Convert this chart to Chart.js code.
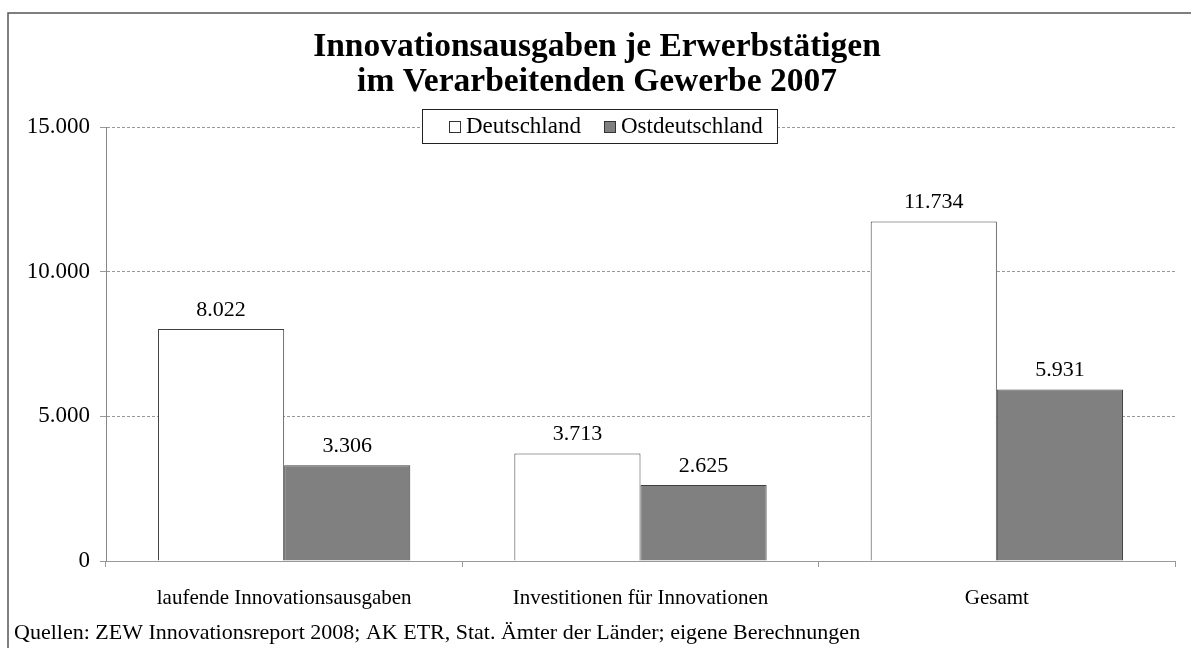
<!DOCTYPE html>
<html>
<head>
<meta charset="utf-8">
<script src="https://cdn.jsdelivr.net/npm/chart.js@4.4.1/dist/chart.umd.min.js"></script>
<style>
  html, body { margin: 0; padding: 0; background: #fff; }
  #wrap { width: 1191px; height: 648px; position: relative; }
</style>
</head>
<body>
<div id="wrap"><canvas id="myChart" width="1191" height="648"></canvas></div>
<script>
const categories = ["laufende Innovationsausgaben", "Investitionen für Innovationen", "Gesamt"];
const deutschland = [8022, 3713, 11734];
const ostdeutschland = [3306, 2625, 5931];
const yTicks = [0, 5000, 10000, 15000];
const titleLines = ["Innovationsausgaben je Erwerbstätigen", "im Verarbeitenden Gewerbe 2007"];
const sourceNote = "Quellen: ZEW Innovationsreport 2008; AK ETR, Stat. Ämter der Länder; eigene Berechnungen";

const serif = "'Liberation Serif', 'Times New Roman', serif";
const fmt = (v) => v.toLocaleString("de-DE");

// title, legend box, value labels, frame and footer
const decorations = {
  id: "decorations",
  afterDraw(chart) {
    const ctx = chart.ctx;
    ctx.save();

    // frame (left + top)
    ctx.strokeStyle = "#555";
    ctx.lineWidth = 1.5;
    ctx.beginPath();
    ctx.moveTo(8, 648);
    ctx.lineTo(8, 13);
    ctx.lineTo(1191, 13);
    ctx.stroke();

    // title
    ctx.fillStyle = "#000";
    ctx.textAlign = "center";
    ctx.textBaseline = "alphabetic";
    ctx.font = "bold 33.5px " + serif;
    ctx.fillText(titleLines[0], 597, 56);
    ctx.fillText(titleLines[1], 597, 91);

    // legend
    ctx.fillStyle = "#fff";
    ctx.fillRect(422, 109, 355, 34);
    ctx.strokeStyle = "#222";
    ctx.lineWidth = 1;
    ctx.strokeRect(422.5, 109.5, 355, 34);
    ctx.font = "23px " + serif;
    ctx.textAlign = "left";
    ctx.textBaseline = "middle";
    const items = [
      { x: 449, fill: "#fff", label: "Deutschland" },
      { x: 604, fill: "#808080", label: "Ostdeutschland" }
    ];
    items.forEach((it) => {
      ctx.fillStyle = it.fill;
      ctx.fillRect(it.x, 121, 12, 12);
      ctx.strokeStyle = "#333";
      ctx.strokeRect(it.x + 0.5, 121.5, 11, 11);
      ctx.fillStyle = "#000";
      ctx.fillText(it.label, it.x + 17, 127);
    });

    // value labels
    ctx.font = "22px " + serif;
    ctx.textAlign = "center";
    ctx.textBaseline = "bottom";
    chart.data.datasets.forEach((ds, i) => {
      chart.getDatasetMeta(i).data.forEach((bar, j) => {
        ctx.fillText(fmt(ds.data[j]), bar.x, bar.y - 8);
      });
    });

    // footer
    ctx.textAlign = "left";
    ctx.textBaseline = "middle";
    ctx.font = "22px " + serif;
    ctx.fillText(sourceNote, 14, 633);

    ctx.restore();
  }
};

new Chart(document.getElementById("myChart"), {
  type: "bar",
  data: {
    labels: categories,
    datasets: [
      {
        label: "Deutschland",
        data: deutschland,
        backgroundColor: "#ffffff",
        borderColor: "#404040",
        borderWidth: 1
      },
      {
        label: "Ostdeutschland",
        data: ostdeutschland,
        backgroundColor: "#808080",
        borderColor: "#404040",
        borderWidth: 1
      }
    ]
  },
  options: {
    responsive: false,
    animation: false,
    devicePixelRatio: 1,
    layout: { padding: { left: 10, right: 16, top: 127, bottom: 37 } },
    datasets: { bar: { barPercentage: 1, categoryPercentage: 0.708 } },
    plugins: {
      legend: { display: false },
      title: { display: false },
      tooltip: { enabled: false }
    },
    scales: {
      x: {
        afterFit: (scale) => { scale.height = 50; },
        grid: {
          drawOnChartArea: false,
          drawTicks: true,
          tickLength: 6,
          color: "#999",
          offset: true
        },
        border: { color: "#999", width: 1 },
        ticks: {
          color: "#000",
          font: { family: serif, size: 21 },
          padding: 19,
          maxRotation: 0
        }
      },
      y: {
        min: 0,
        max: 15000,
        afterFit: (scale) => { scale.width = 96; },
        afterBuildTicks: (scale) => {
          scale.ticks = yTicks.map((v) => ({ value: v }));
        },
        grid: {
          color: "#999",
          tickLength: 6,
          tickBorderDash: []
        },
        border: { display: true, color: "#888", width: 1, dash: [3, 2] },
        ticks: {
          color: "#000",
          font: { family: serif, size: 23 },
          padding: 10,
          callback: (v) => fmt(v)
        }
      }
    }
  },
  plugins: [decorations]
});
</script>
</body>
</html>
